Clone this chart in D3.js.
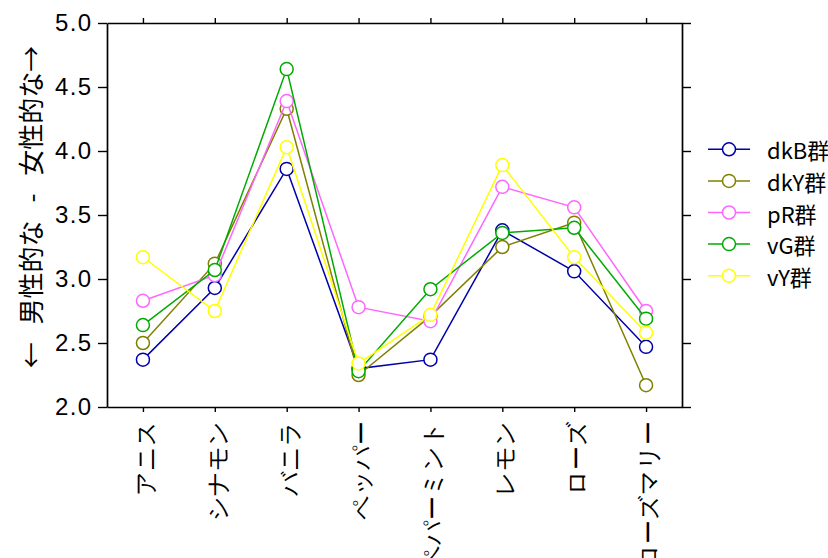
<!DOCTYPE html>
<html>
<head>
<meta charset="utf-8">
<script src="https://cdn.jsdelivr.net/npm/d3@7"></script>
<style>
  body { margin: 0; background: #fff; }
  svg { display: block; font-family: "Noto Sans CJK JP", "Noto Sans", sans-serif; }
</style>
</head>
<body>
<div id="chart"></div>
<script>
// data
const categories = ['アニス', 'シナモン', 'バニラ', 'ペッパー', 'ペパーミント', 'レモン', 'ローズ', 'ローズマリー'];
const seriesNames = ['dkB群', 'dkY群', 'pR群', 'vG群', 'vY群'];
const seriesColors = ['#0000aa', '#808000', '#ff66ff', '#00aa00', '#ffff00'];
const dkB = [2.37, 2.93, 3.86, 2.30, 2.37, 3.38, 3.06, 2.47];
const dkY = [2.50, 3.12, 4.33, 2.25, 2.71, 3.25, 3.44, 2.17];
const pR  = [2.83, 3.03, 4.39, 2.78, 2.67, 3.72, 3.56, 2.75];
const vG  = [2.64, 3.07, 4.64, 2.28, 2.92, 3.36, 3.40, 2.69];
const vY  = [3.17, 2.75, 4.03, 2.34, 2.72, 3.89, 3.17, 2.58];
const yTicks = [2.0, 2.5, 3.0, 3.5, 4.0, 4.5, 5.0];
const yLabel = '← 男性的な - 女性的な→';

const seriesValues = [dkB, dkY, pR, vG, vY];

const W = 828, H = 558;
const margin = { top: 23, left: 107, right: 146, bottom: 151 };
const width = W - margin.left - margin.right;
const height = H - margin.top - margin.bottom;

const svg = d3.select('#chart').append('svg')
  .attr('width', W)
  .attr('height', H);

const g = svg.append('g')
  .attr('transform', `translate(${margin.left},${margin.top})`);

const x = d3.scalePoint()
  .domain(categories)
  .range([0, width])
  .padding(0.5);

const y = d3.scaleLinear()
  .domain([2, 5])
  .range([height, 0]);

// axes on all four sides, ticks outward
const left = g.append('g')
  .call(d3.axisLeft(y).tickValues(yTicks).tickSize(9).tickSizeOuter(0).tickPadding(7)
    .tickFormat(d3.format('.1f')));
left.selectAll('text')
  .style('font-size', '24px')
  .attr('textLength', 36)
  .attr('lengthAdjust', 'spacing')
  .attr('fill', '#000');

g.append('g')
  .attr('transform', `translate(${width},0)`)
  .call(d3.axisRight(y).tickValues(yTicks).tickSize(9).tickSizeOuter(0).tickFormat(''));

g.append('g')
  .call(d3.axisTop(x).tickSize(5).tickSizeOuter(0).tickFormat(''));

const bottom = g.append('g')
  .attr('transform', `translate(0,${height})`)
  .call(d3.axisBottom(x).tickSize(5).tickSizeOuter(0));
bottom.selectAll('text')
  .attr('transform', 'rotate(-90)')
  .attr('x', -14)
  .attr('y', 2)
  .attr('dy', null)
  .attr('text-anchor', 'end')
  .attr('dominant-baseline', 'central')
  .style('font-size', '24px')
  .attr('fill', '#000');

g.selectAll('.domain').attr('stroke', '#000').attr('stroke-width', 1.7);
g.selectAll('.tick line').attr('stroke', '#000').attr('stroke-width', 1.4);

// series: line then markers, in order
const line = d3.line()
  .x((d, i) => x(categories[i]))
  .y(d => y(d));

seriesValues.forEach((vals, s) => {
  const sg = g.append('g');
  sg.append('path')
    .datum(vals)
    .attr('fill', 'none')
    .attr('stroke', seriesColors[s])
    .attr('stroke-width', 1.5)
    .attr('d', line);
  sg.selectAll('circle')
    .data(vals)
    .join('circle')
    .attr('cx', (d, i) => x(categories[i]))
    .attr('cy', d => y(d))
    .attr('r', 6.5)
    .attr('fill', '#fff')
    .attr('stroke', seriesColors[s])
    .attr('stroke-width', 1.5);
});

// y label
svg.append('text')
  .attr('transform', `translate(29,${margin.top + 184}) rotate(-90)`)
  .attr('text-anchor', 'middle')
  .attr('dominant-baseline', 'central')
  .style('font-size', '26px')
  .style('word-spacing', '12px')
  .text(yLabel);

// legend, no frame
const legend = svg.append('g')
  .attr('transform', `translate(708,149.3)`);

const items = legend.selectAll('g')
  .data(seriesNames)
  .join('g')
  .attr('transform', (d, i) => `translate(0,${i * 31.6})`);

items.append('line')
  .attr('x1', 0).attr('x2', 42)
  .attr('stroke', (d, i) => seriesColors[i])
  .attr('stroke-width', 1.5);

items.append('circle')
  .attr('cx', 21)
  .attr('r', 6.5)
  .attr('fill', '#fff')
  .attr('stroke', (d, i) => seriesColors[i])
  .attr('stroke-width', 1.5);

items.append('text')
  .attr('x', 59)
  .attr('dominant-baseline', 'central')
  .style('font-size', '22px')
  .text(d => d);
</script>
</body>
</html>
